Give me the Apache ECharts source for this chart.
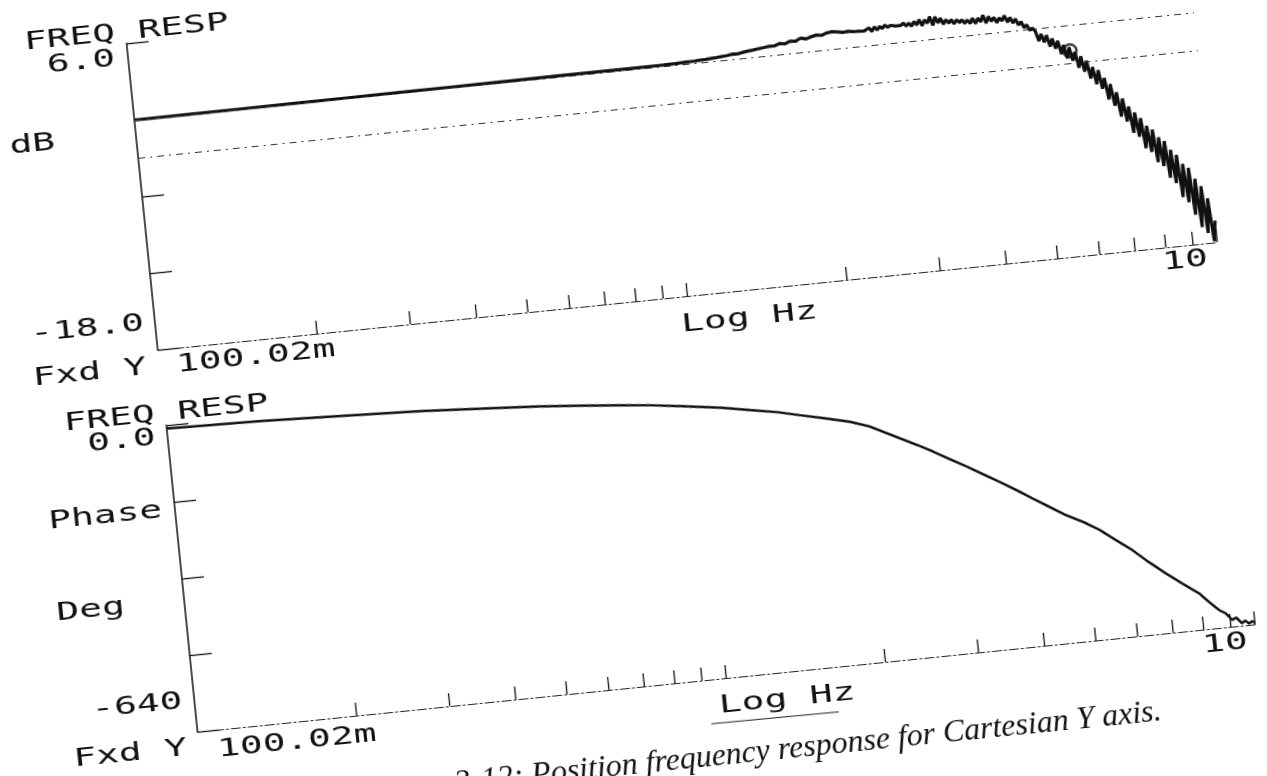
<!DOCTYPE html>
<html>
<head>
<meta charset="utf-8">
<script src="https://cdn.jsdelivr.net/npm/echarts@6/dist/echarts.min.js"></script>
<style>
  html, body { margin: 0; padding: 0; width: 1267px; height: 776px; overflow: hidden; background: #fff; }
  /* the plotter sheet sits slightly rotated on the page */
  #sheet { position: absolute; left: -67px; top: -62px; width: 1400px; height: 900px;
           transform: rotate(-5.8deg); transform-origin: 700px 450px; background: #fff; }
</style>
</head>
<body>
<div id="sheet"></div>
<script>
// ---- magnitude trace (Hz, dB) ----
const magFreq = [
  0.10002, 0.1259, 0.1585, 0.1995, 0.2512, 0.3162, 0.3981, 0.5012, 0.631, 0.7943,
  0.8913, 1.0, 1.047, 1.096, 1.148, 1.202, 1.259, 1.318, 1.349, 1.38,
  1.413, 1.445, 1.479, 1.514, 1.549, 1.585, 1.622, 1.66, 1.698, 1.738,
  1.778, 1.82, 1.862, 1.905, 1.95, 1.995, 2.042, 2.089, 2.138, 2.188,
  2.239, 2.291, 2.344, 2.399, 2.455, 2.483, 2.512, 2.541, 2.57, 2.6,
  2.63, 2.661, 2.692, 2.754, 2.818, 2.851, 2.884, 2.917, 2.951, 2.985,
  3.02, 3.055, 3.09, 3.126, 3.162, 3.199, 3.236, 3.273, 3.311, 3.35,
  3.388, 3.428, 3.467, 3.508, 3.548, 3.589, 3.631, 3.673, 3.715, 3.758,
  3.802, 3.846, 3.89, 3.936, 3.981, 4.027, 4.074, 4.121, 4.169, 4.217,
  4.266, 4.315, 4.365, 4.416, 4.467, 4.519, 4.571, 4.624, 4.677, 4.732,
  4.786, 4.842, 4.898, 4.955,
  5.012, 5.070, 5.129, 5.188, 5.248, 5.309, 5.370, 5.433, 5.495, 5.559,
  5.623, 5.689, 5.754, 5.821, 5.888, 5.957, 6.026, 6.095, 6.166, 6.237,
  6.310, 6.383, 6.457, 6.531, 6.607, 6.683, 6.761, 6.839, 6.918, 6.998,
  7.079, 7.161, 7.244, 7.328, 7.413, 7.499, 7.586, 7.674, 7.762, 7.852,
  7.943, 8.035, 8.128, 8.222, 8.318, 8.414, 8.511, 8.610, 8.710, 8.810,
  8.913, 9.016, 9.120, 9.226, 9.333, 9.441, 9.550, 9.661, 9.772, 9.886, 10.0
];
const magDb = [
  0.00, 0.01, 0.02, 0.03, 0.04, 0.05, 0.06, 0.07, 0.08, 0.09,
  0.09, 0.10, 0.11, 0.14, 0.17, 0.21, 0.26, 0.33, 0.40, 0.38,
  0.46, 0.52, 0.55, 0.62, 0.66, 0.72, 0.70, 0.85, 0.78, 0.95,
  0.90, 1.10, 1.00, 1.12, 1.22, 1.15, 1.30, 1.36, 1.30, 1.22,
  1.25, 1.20, 1.18, 1.15, 1.35, 1.05, 1.40, 1.12, 1.38, 1.20,
  1.45, 1.25, 1.38, 1.30, 1.30, 1.45, 1.20, 1.42, 1.15, 1.50,
  1.20, 1.60, 1.10, 1.55, 1.25, 1.75, 1.05, 1.70, 1.20, 1.55,
  1.05, 1.40, 1.10, 1.35, 1.00, 1.30, 1.05, 1.25, 0.95, 1.20,
  0.90, 1.30, 0.85, 1.25, 0.95, 1.45, 0.80, 1.30, 0.90, 1.20,
  0.75, 1.10, 0.85, 1.25, 0.70, 1.05, 0.60, 0.90, 0.40, 0.65,
  0.15, 0.35, -0.10, 0.05,
  -0.20, -1.01, -0.47, -1.14, -0.60, -1.51, -0.91, -1.72, -1.13, -2.19,
  -1.50, -2.56, -1.72, -2.78, -2.12, -3.39, -2.51, -3.73, -2.90, -4.31,
  -3.43, -4.80, -3.72, -5.20, -4.37, -6.08, -4.90, -6.61, -5.58, -7.50,
  -6.11, -7.93, -6.79, -8.86, -7.29, -9.21, -7.78, -10.15, -8.42, -10.49,
  -8.76, -11.33, -9.40, -11.67, -9.74, -12.64, -10.47, -13.09, -10.91, -14.23,
  -11.66, -14.68, -12.00, -15.70, -12.91, -16.71, -13.52, -17.22, -14.53, -17.90, -16.30
];
// cursor circle on the magnitude trace
const cursorPoint = [5.77, -2.0];
// dashed reference levels (dB)
const refLevels = [0, -3];

// ---- phase trace (Hz, deg) ----
const phaseFreq = [
  0.10002, 0.15, 0.2, 0.3, 0.4, 0.5, 0.6, 0.7, 0.811, 0.936,
  1.1, 1.245, 1.4, 1.54, 1.72, 1.905, 2.07, 2.2, 2.38, 2.53,
  2.69, 2.88, 3.09, 3.3, 3.54, 3.8, 4.05, 4.34, 4.65, 5.0,
  5.33, 5.7, 6.09, 6.5, 6.96, 7.45, 7.96, 8.3, 8.62, 8.85,
  9.08, 9.25, 9.46, 9.6, 9.75, 9.88, 10.0
];
const phaseDeg = [
  -7, -11, -16, -24, -32, -39, -46, -53, -60, -69,
  -80, -91, -101, -112, -124, -136, -150, -165, -184, -199,
  -215, -234, -253, -272, -292, -313, -333, -354, -375, -393,
  -412, -437, -461, -489, -516, -541, -564, -585, -603, -611,
  -626, -622, -635, -630, -637, -633, -636
];

// ---- axes ----
const freqRange = [0.10002, 10];
const freqTicks = [0.2, 0.3, 0.4, 0.5, 0.6, 0.7, 0.8, 0.9, 1, 2, 3, 4, 5, 6, 7, 8, 9, 10];
const magRange = [-18, 6], magStep = 6;
const phaseRange = [-640, 0], phaseStep = 160;
const freqLabels = ['100.02m', '10'];
const magLabels = ['6.0', '-18.0'];
const phaseLabels = ['0.0', '-640'];

const INK = '#111';
const chart = echarts.init(document.getElementById('sheet'), null, { renderer: 'canvas' });

function xAxisFor(gi) {
  return {
    gridIndex: gi, type: 'log', logBase: 10, min: freqRange[0], max: freqRange[1],
    axisLine: { show: true, onZero: false, lineStyle: { color: '#222', width: 1.2, type: [9, 3, 2, 3] } },
    axisTick: { show: false }, axisLabel: { show: false }, splitLine: { show: false }
  };
}
function yAxisFor(gi, range, step) {
  return {
    gridIndex: gi, type: 'value', min: range[0], max: range[1], interval: step,
    axisLine: { show: true, onZero: false, lineStyle: { color: INK, width: 1.5 } },
    axisTick: { show: true, inside: true, length: 22, lineStyle: { color: INK, width: 1.3 } },
    axisLabel: { show: false }, splitLine: { show: false }
  };
}
function tickSeries(gi, yMin) {
  return {
    type: 'custom', xAxisIndex: gi, yAxisIndex: gi, silent: true,
    data: freqTicks.map(f => [f, yMin]),
    renderItem: (params, api) => {
      const p = api.coord([api.value(0), api.value(1)]);
      return { type: 'line', shape: { x1: p[0], y1: p[1], x2: p[0], y2: p[1] - 13 },
               style: { stroke: INK, lineWidth: 1.3 } };
    }
  };
}

chart.setOption({
  animation: false,
  backgroundColor: '#fff',
  grid: [
    { left: 231, top: 56, width: 1065, height: 308 },
    { left: 232, top: 440, width: 1063, height: 308 }
  ],
  xAxis: [xAxisFor(0), xAxisFor(1)],
  yAxis: [yAxisFor(0, magRange, magStep), yAxisFor(1, phaseRange, phaseStep)],
  series: [
    {
      type: 'line', xAxisIndex: 0, yAxisIndex: 0, showSymbol: false, silent: true,
      data: magFreq.map((f, i) => [f, magDb[i]]),
      lineStyle: { color: INK, width: 3.2 },
      markLine: {
        silent: true, symbol: 'none', label: { show: false },
        lineStyle: { color: '#333', width: 1, type: [7, 5, 2, 5] },
        data: refLevels.map(v => ({ yAxis: v }))
      }
    },
    {
      type: 'scatter', xAxisIndex: 0, yAxisIndex: 0, silent: true,
      data: [cursorPoint], symbol: 'circle', symbolSize: 13,
      itemStyle: { color: '#fff', borderColor: INK, borderWidth: 2.5 }
    },
    tickSeries(0, magRange[0]),
    {
      type: 'line', xAxisIndex: 1, yAxisIndex: 1, showSymbol: false, silent: true,
      data: phaseFreq.map((f, i) => [f, phaseDeg[i]]),
      lineStyle: { color: INK, width: 2.5 }
    },
    tickSeries(1, phaseRange[0])
  ]
});

// ---- plotter lettering, anchored to the grid corners ----
const PLOT_FONT = '24px "DejaVu Sans Mono"';
function plotText(text, x, y, align) {
  return {
    type: 'text', x: x, y: y, scaleX: 1.58, silent: true,
    style: { text: text, font: PLOT_FONT, fill: INK,
             align: align, verticalAlign: 'middle', textAlign: align, textVerticalAlign: 'middle' }
  };
}
const tl0 = chart.convertToPixel({ gridIndex: 0 }, [freqRange[0], magRange[1]]);
const br0 = chart.convertToPixel({ gridIndex: 0 }, [freqRange[1], magRange[0]]);
const tl1 = chart.convertToPixel({ gridIndex: 1 }, [freqRange[0], phaseRange[1]]);
const br1 = chart.convertToPixel({ gridIndex: 1 }, [freqRange[1], phaseRange[0]]);

const texts = [
  // magnitude panel
  plotText('FREQ RESP', tl0[0] + 1, tl0[1] - 10, 'center'),
  plotText(magLabels[0], tl0[0] - 13, tl0[1] + 15, 'right'),
  plotText('dB', tl0[0] - 104, tl0[1] + 92, 'center'),
  plotText(magLabels[1], tl0[0] - 11, br0[1] - 27, 'right'),
  plotText('Fxd Y', tl0[0] - 70, br0[1] + 17, 'center'),
  plotText(freqLabels[0], tl0[0] + 17, br0[1] + 18, 'left'),
  plotText('Log Hz', tl0[0] + 592, br0[1] + 29, 'center'),
  plotText(freqLabels[1], br0[0] - 11, br0[1] + 16, 'right'),
  // phase panel
  plotText('FREQ RESP', tl1[0] + 1, tl1[1] - 11, 'center'),
  plotText(phaseLabels[0], tl1[0] - 12, tl1[1] + 12, 'right'),
  plotText('Phase', tl1[0] - 70, tl1[1] + 85, 'center'),
  plotText('Deg', tl1[0] - 94, tl1[1] + 177, 'center'),
  plotText(phaseLabels[1], tl1[0] - 12, br1[1] - 31, 'right'),
  plotText('Fxd Y', tl1[0] - 69, br1[1] + 16, 'center'),
  plotText(freqLabels[0], tl1[0] + 18, br1[1] + 21, 'left'),
  plotText('Log Hz', tl1[0] + 590, br1[1] + 28, 'center'),
  // pen stroke under the lower "Log Hz"
  {
    type: 'line', silent: true,
    shape: { x1: tl1[0] + 512, y1: br1[1] + 44, x2: tl1[0] + 640, y2: br1[1] + 45 },
    style: { stroke: '#222', lineWidth: 1.2 }
  },
  plotText(freqLabels[1], br1[0] - 9, br1[1] + 17, 'right'),
  // figure caption below the phase plot
  {
    type: 'text', x: br1[0] - 102, y: br1[1] + 78, silent: true,
    style: { text: 'Figure 3-12: Position frequency response for Cartesian Y axis.',
             font: 'italic 32px "Liberation Serif"', fill: INK,
             align: 'right', verticalAlign: 'middle', textAlign: 'right', textVerticalAlign: 'middle' }
  }
];
chart.setOption({ graphic: texts });
</script>
</body>
</html>
